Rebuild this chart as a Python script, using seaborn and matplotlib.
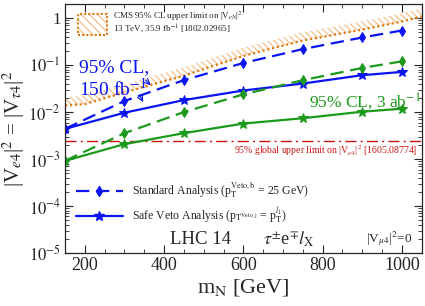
import numpy as np
import pandas as pd
import matplotlib
matplotlib.use("Agg")
import matplotlib.pyplot as plt
import matplotlib.ticker as mticker
from matplotlib.patches import Rectangle
from matplotlib.lines import Line2D
import seaborn as sns

# heavy neutrino mass points [GeV]
masses = [150, 300, 450, 600, 750, 900, 1000]

# 95% CL limits on |V_e4|^2 = |V_tau4|^2
std_150fb = [4.4e-3, 0.0172, 0.0478, 0.111, 0.219, 0.387, 0.545]
safe_150fb = [4.4e-3, 9.7e-3, 0.018, 0.0288, 0.0405, 0.061, 0.0716]
std_3ab = [9.2e-4, 3.56e-3, 0.0100, 0.0238, 0.0477, 0.087, 0.120]
safe_3ab = [9.2e-4, 2.08e-3, 3.56e-3, 5.7e-3, 7.4e-3, 0.0102, 0.0118]

# CMS 13 TeV upper limit (lower edge of hatched band)
cms_mass = [150, 200, 300, 450, 600, 750, 900, 1000, 1050]
cms_limit = [0.0139, 0.0148, 0.0262, 0.0597, 0.157, 0.334, 0.569, 0.847, 1.08]

global_limit = 2.4e-3

blue = "#0a14f0"
green = "#1c9a1c"
orange = "#e07a10"
light_orange = "#f5c08a"
red = "#c81414"

sns.set_style("ticks")
plt.rcParams["font.family"] = ["Liberation Serif", "DejaVu Serif"]
plt.rcParams["mathtext.fontset"] = "stix"
plt.rcParams["hatch.linewidth"] = 0.9

fig = plt.figure(figsize=(4.25, 3.06), dpi=100)
ax = fig.add_axes([0.153, 0.173, 0.839, 0.814])

# CMS hatched band
cms_hi = [v * 1.5 for v in cms_limit]
ax.fill_between(cms_mass, cms_limit, cms_hi, facecolor="none",
                edgecolor=light_orange, hatch="\\\\\\\\\\", linewidth=0)
ax.plot(cms_mass, cms_limit, color=orange, ls=(0, (1, 1.2)), lw=1.6)

ax.axhline(global_limit, color=red, ls=(0, (8, 3, 1.5, 3)), lw=1.0)

df = pd.DataFrame({"mass": masses, "std_150": std_150fb, "safe_150": safe_150fb,
                   "std_3ab": std_3ab, "safe_3ab": safe_3ab})

sns.lineplot(data=df, x="mass", y="std_150", ax=ax, color=blue, lw=1.6,
             ls=(0, (6, 3)), marker="d", markersize=5,
             markeredgecolor=blue, legend=False)
sns.lineplot(data=df, x="mass", y="safe_150", ax=ax, color=blue, lw=1.6,
             marker="*", markersize=7, markeredgecolor=blue, legend=False)
sns.lineplot(data=df, x="mass", y="std_3ab", ax=ax, color=green, lw=1.6,
             ls=(0, (6, 3)), marker="d", markersize=5,
             markeredgecolor=green, legend=False)
sns.lineplot(data=df, x="mass", y="safe_3ab", ax=ax, color=green, lw=1.6,
             marker="*", markersize=7, markeredgecolor=green, legend=False)

ax.set_yscale("log")
ax.set_xlim(150, 1050)
ax.set_ylim(1e-5, 2)

ax.xaxis.set_major_locator(mticker.MultipleLocator(200))
ax.xaxis.set_minor_locator(mticker.MultipleLocator(50))
ax.set_yticks([1e-5, 1e-4, 1e-3, 1e-2, 1e-1, 1])
ax.set_yticklabels([r"$10^{-5}$", r"$10^{-4}$", r"$10^{-3}$", r"$10^{-2}$",
                    r"$10^{-1}$", "1"])
ax.yaxis.set_minor_locator(mticker.LogLocator(base=10, subs=np.arange(2, 10), numticks=20))
ax.yaxis.set_minor_formatter(mticker.NullFormatter())
ax.tick_params(which="both", direction="in", top=True, right=True, pad=3)
ax.tick_params(axis="x", labelsize=13)
ax.tick_params(axis="y", labelsize=12)
ax.tick_params(which="major", length=6, width=0.8)
ax.tick_params(which="minor", length=3, width=0.6)
for s in ax.spines.values():
    s.set_linewidth(0.9)

ax.set_xlabel(r"m$_{\mathrm{N}}$ [GeV]", fontsize=16, labelpad=2)
ax.set_ylabel(r"|V$_{e4}$|$^2$ = |V$_{\tau4}$|$^2$", fontsize=15, labelpad=1)

# annotations
ax.text(185, 0.05, "95% CL,\n150 fb$^{-1}$", color=blue, fontsize=14,
        va="center", ha="left", linespacing=1.1)
ax.annotate("", xy=(371, 0.034), xytext=(348, 0.0526),
            arrowprops=dict(arrowstyle="->", color=blue, lw=0.8))
ax.annotate("", xy=(351, 0.0146), xytext=(334, 0.0257),
            arrowprops=dict(arrowstyle="->", color=blue, lw=0.8))
ax.text(767, 0.0128, "95% CL, 3 ab$^{-1}$", color=green, fontsize=12.5,
        va="baseline", ha="left")
ax.text(1040, 1.5e-3, "95% global upper limit on |V$_{e4}$|$^2$ [1605.08774]",
        color=red, fontsize=7, va="center", ha="right")

ax.text(0.295, 0.055, "LHC 14", transform=ax.transAxes, fontsize=13.5,
        va="center", ha="left")
ax.text(0.555, 0.055, r"$\tau^{\pm}$e$^{\mp}\mathit{l}_{\mathrm{X}}$", transform=ax.transAxes,
        fontsize=13, va="center", ha="left")
ax.text(0.975, 0.06, r"|V$_{\mu4}$|$^2$=0", transform=ax.transAxes, fontsize=9.5,
        va="center", ha="right")

# CMS legend entry drawn by hand
ax.add_patch(Rectangle((0.036, 0.876), 0.082, 0.084, transform=ax.transAxes,
                       facecolor="none", edgecolor=light_orange, hatch="\\\\\\\\",
                       linewidth=0))
ax.add_patch(Rectangle((0.036, 0.876), 0.082, 0.084, transform=ax.transAxes,
                       facecolor="none", edgecolor=orange, linestyle=(0, (1, 1)),
                       linewidth=1.5))
ax.text(0.135, 0.952, "CMS 95% CL upper limit on |V$_{eN}$|$^2$",
        transform=ax.transAxes, fontsize=6.5, va="center", ha="left")
ax.text(0.135, 0.9, "13 TeV, 35.9 fb$^{-1}$ [1802.02965]",
        transform=ax.transAxes, fontsize=6.5, va="center", ha="left")

h_std = Line2D([], [], color=blue, lw=1.6, ls=(0, (6, 3)), marker="d", markersize=5)
h_safe = Line2D([], [], color=blue, lw=1.6, marker="*", markersize=7)
ax.legend([h_std, h_safe],
          [r"Standard Analysis (p$_\mathrm{T}^{\mathrm{Veto,b}}$ = 25 GeV)",
           r"Safe Veto Analysis (p$_{\mathrm{T}^{\mathrm{Veto,j}}}$ = p$_\mathrm{T}^{l_1}$)"],
          loc="lower left", bbox_to_anchor=(0.0, 0.065), frameon=False,
          fontsize=8.5, handlelength=4.0, handletextpad=0.8, labelspacing=0.55)

fig.savefig("out.png", dpi=100)
